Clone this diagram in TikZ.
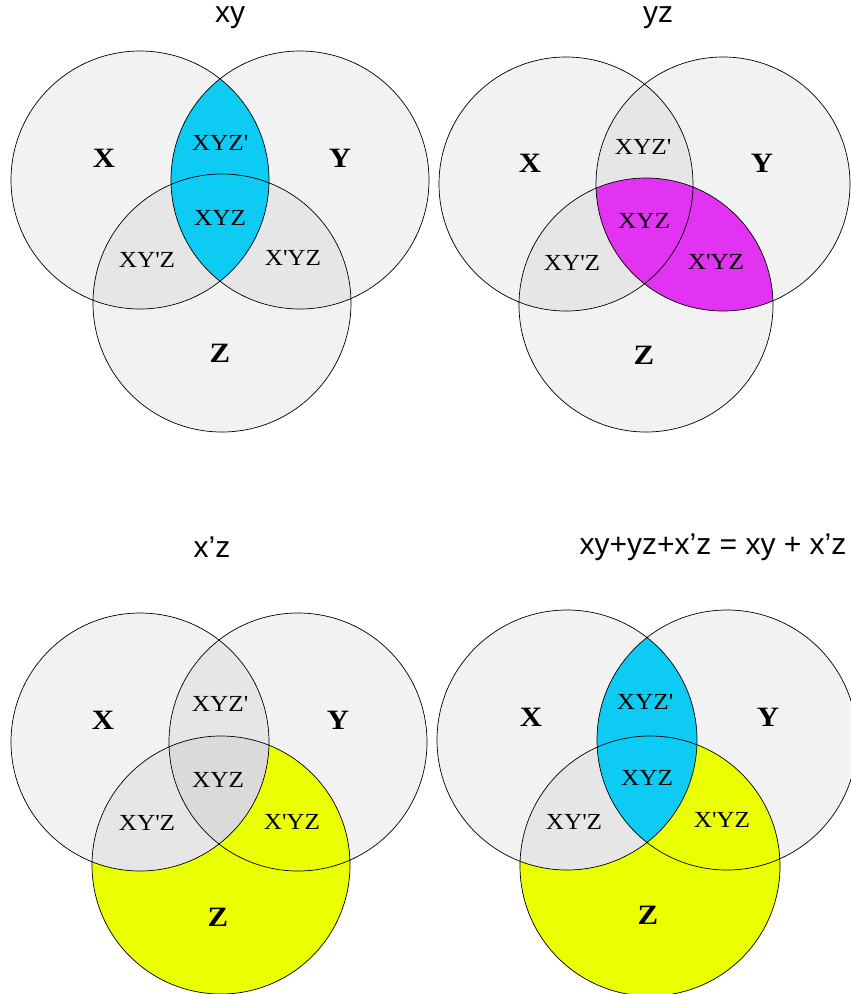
\documentclass[tikz,border=0pt]{standalone}
\usepackage{fontspec}
\setmainfont{Liberation Serif}[FakeStretch=1.1]
\newfontfamily\titlefont{Liberation Sans}
\definecolor{vcyan}{HTML}{0DCBF2}
\definecolor{vmag}{HTML}{E233F2}
\definecolor{vyel}{HTML}{EAFF00}
\tikzset{
  setfill/.style={fill=black, fill opacity=0.05},
  setline/.style={draw=black, line width=0.7pt},
  ttl/.style={font=\titlefont\fontsize{30}{34}\selectfont, inner sep=0pt},
  big/.style={font=\bfseries\fontsize{28}{30}\selectfont, inner sep=0pt},
  small/.style={font=\fontsize{23}{26}\selectfont, inner sep=0pt},
}
\newcommand{\qq}{\textquotesingle}
\begin{document}
\begin{tikzpicture}[x=1pt,y=-1pt]
\useasboundingbox (0,0) rectangle (851,994);
% ---------- panel 1: xy ----------
\begin{scope}
\coordinate (ax) at (140,180); \coordinate (ay) at (300,180); \coordinate (az) at (222,303);
\def\r{129pt}
\fill[setfill] (ax) circle[radius=\r];
\fill[setfill] (ay) circle[radius=\r];
\fill[setfill] (az) circle[radius=\r];
\begin{scope}\clip (ax) circle[radius=\r]; \fill[vcyan] (ay) circle[radius=\r];\end{scope}
\draw[setline] (ax) circle[radius=\r] (ay) circle[radius=\r] (az) circle[radius=\r];
\node[ttl] (t1) at (230,18) {xy};
\node[big] (a1) at (104,158) {X};
\node[big] (a2) at (340,158) {Y};
\node[big] (a3) at (220,353) {Z};
\node[small] (a4) at (220,143) {XYZ\qq};
\node[small] (a5) at (220,218) {XYZ};
\node[small] (a6) at (147,260) {XY\qq Z};
\node[small] (a7) at (293,258) {X\qq YZ};
\end{scope}
% ---------- panel 2: yz ----------
\begin{scope}
\coordinate (bx) at (566,184); \coordinate (by) at (723,184); \coordinate (bz) at (646,305);
\def\r{127pt}
\fill[setfill] (bx) circle[radius=\r];
\fill[setfill] (by) circle[radius=\r];
\fill[setfill] (bz) circle[radius=\r];
\begin{scope}\clip (by) circle[radius=\r]; \fill[vmag] (bz) circle[radius=\r];\end{scope}
\draw[setline] (bx) circle[radius=\r] (by) circle[radius=\r] (bz) circle[radius=\r];
\node[ttl] (t2) at (658,18) {yz};
\node[big] (b1) at (530,163) {X};
\node[big] (b2) at (762,163) {Y};
\node[big] (b3) at (644,355) {Z};
\node[small] (b4) at (643,147) {XYZ\qq};
\node[small] (b5) at (644,221) {XYZ};
\node[small] (b6) at (572,263) {XY\qq Z};
\node[small] (b7) at (716,262) {X\qq YZ};
\end{scope}
% ---------- panel 3: x'z ----------
\begin{scope}
\coordinate (cx) at (140,742); \coordinate (cy) at (298,742); \coordinate (cz) at (221,865);
\def\r{129pt}
\fill[setfill] (cx) circle[radius=\r];
\fill[setfill] (cy) circle[radius=\r];
\fill[setfill] (cz) circle[radius=\r];
\begin{scope}\clip (cz) circle[radius=\r];
\fill[vyel, even odd rule] (-10,500) rectangle (900,1100) (cx) circle[radius=\r];\end{scope}
\draw[setline] (cx) circle[radius=\r] (cy) circle[radius=\r] (cz) circle[radius=\r];
\node[ttl] (t3) at (212,547) {x’z};
\node[big] (c1) at (103,720) {X};
\node[big] (c2) at (338,720) {Y};
\node[big] (c3) at (218,917) {Z};
\node[small] (c4) at (220,704) {XYZ\qq};
\node[small] (c5) at (218,780) {XYZ};
\node[small] (c6) at (147,823) {XY\qq Z};
\node[small] (c7) at (292,822) {X\qq YZ};
\end{scope}
% ---------- panel 4: sum ----------
\begin{scope}
\coordinate (dx) at (567,740); \coordinate (dy) at (727,740); \coordinate (dz) at (650,866);
\def\r{130pt}
\fill[setfill] (dx) circle[radius=\r];
\fill[setfill] (dy) circle[radius=\r];
\fill[setfill] (dz) circle[radius=\r];
\begin{scope}\clip (dx) circle[radius=\r]; \fill[vcyan] (dy) circle[radius=\r];\end{scope}
\begin{scope}\clip (dz) circle[radius=\r];
\fill[vyel, even odd rule] (400,500) rectangle (900,1100) (dx) circle[radius=\r];\end{scope}
\draw[setline] (dx) circle[radius=\r] (dy) circle[radius=\r] (dz) circle[radius=\r];
\node[ttl] (t4) at (713,547) {xy+yz+x’z = xy + x’z};
\node[big] (d1) at (531,717) {X};
\node[big] (d2) at (768,717) {Y};
\node[big] (d3) at (648,915) {Z};
\node[small] (d4) at (645,702) {XYZ\qq};
\node[small] (d5) at (647,778) {XYZ};
\node[small] (d6) at (574,822) {XY\qq Z};
\node[small] (d7) at (722,820) {X\qq YZ};
\end{scope}
\end{tikzpicture}
\end{document}
